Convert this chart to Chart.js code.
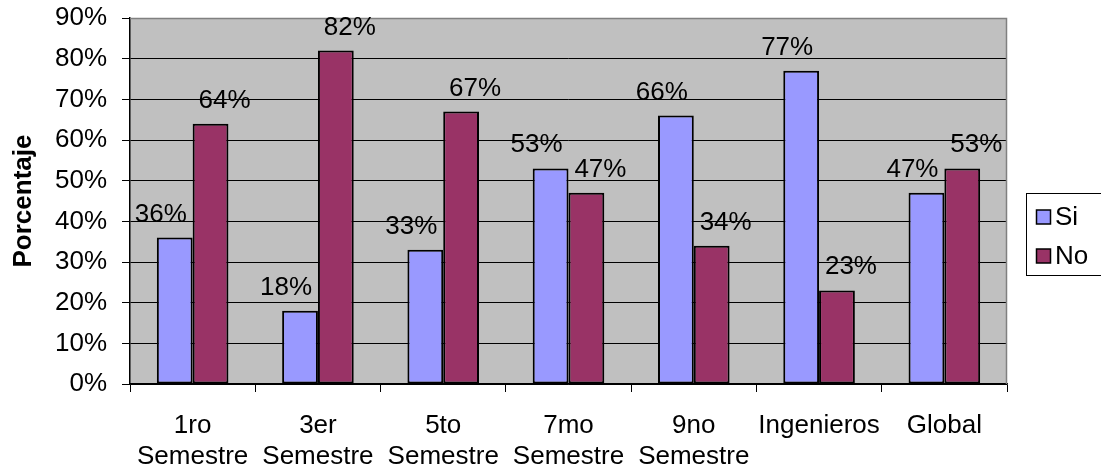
<!DOCTYPE html>
<html>
<head>
<meta charset="utf-8">
<script src="https://cdn.jsdelivr.net/npm/chart.js@4/dist/chart.umd.min.js"></script>
<style>
  html, body { margin: 0; padding: 0; background: #ffffff; }
  #wrap { width: 1101px; height: 470px; position: relative; }
</style>
</head>
<body>
<div id="wrap"><canvas id="c" width="1101" height="470"></canvas></div>
<script>
// Categories (multi-line labels) and series values in percent
const categories = [
  ["1ro", "Semestre"],
  ["3er", "Semestre"],
  ["5to", "Semestre"],
  ["7mo", "Semestre"],
  ["9no", "Semestre"],
  ["Ingenieros"],
  ["Global"]
];
const siValues = [36, 18, 33, 53, 66, 77, 47];
const noValues = [64, 82, 67, 47, 34, 23, 53];
const seriesNames = ["Si", "No"];
const yTicks = [0, 10, 20, 30, 40, 50, 60, 70, 80, 90];

const FONT = "'Liberation Sans', Arial, sans-serif";
const FONT_SIZE = 26;
const SI_COLOR = "#9999FF";
const NO_COLOR = "#993366";

// Gray plot background and gray frame on top/right
const plotFrame = {
  id: "plotFrame",
  beforeDraw(chart) {
    const { ctx, chartArea: a } = chart;
    ctx.save();
    ctx.fillStyle = "#C0C0C0";
    ctx.fillRect(a.left, a.top, a.right - a.left, a.bottom - a.top);
    ctx.restore();
  },
  afterDatasetsDraw(chart) {
    const { ctx, chartArea: a } = chart;
    ctx.save();
    ctx.strokeStyle = "#808080";
    ctx.lineWidth = 1.5;
    ctx.beginPath();
    ctx.moveTo(a.left, a.top + 0.5);
    ctx.lineTo(a.right - 0.5, a.top + 0.5);
    ctx.lineTo(a.right - 0.5, a.bottom);
    ctx.stroke();
    ctx.restore();
  }
};

// Percent labels above each bar, nudged outward from the pair's centre
const valueLabels = {
  id: "valueLabels",
  afterDatasetsDraw(chart) {
    const { ctx } = chart;
    ctx.save();
    ctx.font = FONT_SIZE + "px " + FONT;
    ctx.fillStyle = "#000000";
    ctx.textAlign = "center";
    ctx.textBaseline = "alphabetic";
    chart.data.datasets.forEach((ds, di) => {
      const meta = chart.getDatasetMeta(di);
      meta.data.forEach((bar, i) => {
        const shift = di === 0 ? -14 : 14;
        ctx.fillText(ds.data[i] + "%", bar.x + shift, bar.y - 16);
      });
    });
    ctx.restore();
  }
};

// Boxed legend on the right
const boxLegend = {
  id: "boxLegend",
  afterDraw(chart) {
    const { ctx } = chart;
    const left = 1026, top = 193, bottom = 275;
    ctx.save();
    ctx.fillStyle = "#ffffff";
    ctx.fillRect(left, top, 1110 - left, bottom - top);
    ctx.strokeStyle = "#000000";
    ctx.lineWidth = 1;
    ctx.strokeRect(left + 0.5, top + 0.5, 1110 - left, bottom - top);
    ctx.font = FONT_SIZE + "px " + FONT;
    ctx.textBaseline = "middle";
    ctx.textAlign = "left";
    chart.data.datasets.forEach((ds, di) => {
      const cy = 217 + di * 39;
      ctx.fillStyle = ds.backgroundColor;
      ctx.fillRect(1036.5, cy - 7, 14, 14);
      ctx.strokeStyle = "#000000";
      ctx.lineWidth = 1.5;
      ctx.strokeRect(1036.5, cy - 7, 14, 14);
      ctx.fillStyle = "#000000";
      ctx.fillText(ds.label, 1055, cy + 1);
    });
    ctx.restore();
  }
};

const barStyle = {
  borderColor: "#000000",
  borderWidth: 2,
  borderSkipped: false,
  categoryPercentage: 2 / 3.5,
  barPercentage: 1
};

const chart = new Chart(document.getElementById("c"), {
  type: "bar",
  data: {
    labels: categories,
    datasets: [
      Object.assign({ label: seriesNames[0], data: siValues, backgroundColor: SI_COLOR }, barStyle),
      Object.assign({ label: seriesNames[1], data: noValues, backgroundColor: NO_COLOR }, barStyle)
    ]
  },
  options: {
    responsive: false,
    animation: false,
    devicePixelRatio: 1,
    layout: { padding: { top: 18, right: 94, left: 0, bottom: 0 } },
    plugins: {
      legend: { display: false },
      tooltip: { enabled: false }
    },
    scales: {
      x: {
        afterFit(scale) { scale.height = 470 - 384; },
        grid: {
          display: true,
          offset: true,
          drawOnChartArea: false,
          drawTicks: true,
          tickLength: 8,
          color: "#000000",
          lineWidth: 1
        },
        border: { display: true, color: "#000000", width: 1.5 },
        ticks: {
          color: "#000000",
          font: { family: FONT, size: FONT_SIZE, lineHeight: "31px" },
          padding: 18,
          maxRotation: 0,
          autoSkip: false
        }
      },
      y: {
        min: 0,
        max: 90,
        afterFit(scale) {
          scale.width = 130;
          // let the top tick label overhang the plot so the plot starts at the padding line
          scale.paddingTop = 0;
          scale.paddingBottom = 0;
        },
        afterBuildTicks(scale) { scale.ticks = yTicks.map(v => ({ value: v })); },
        grid: {
          color: "#000000",
          lineWidth: 1,
          drawTicks: true,
          tickLength: 8
        },
        border: { display: true, color: "#000000", width: 1.5 },
        ticks: {
          color: "#000000",
          font: { family: FONT, size: FONT_SIZE },
          padding: 15,
          callback: v => v + "%"
        },
        title: {
          display: true,
          text: "Porcentaje",
          color: "#000000",
          font: { family: FONT, size: FONT_SIZE, weight: "bold" },
          padding: { top: 8, bottom: 0 }
        }
      }
    }
  },
  plugins: [plotFrame, valueLabels, boxLegend]
});
</script>
</body>
</html>
